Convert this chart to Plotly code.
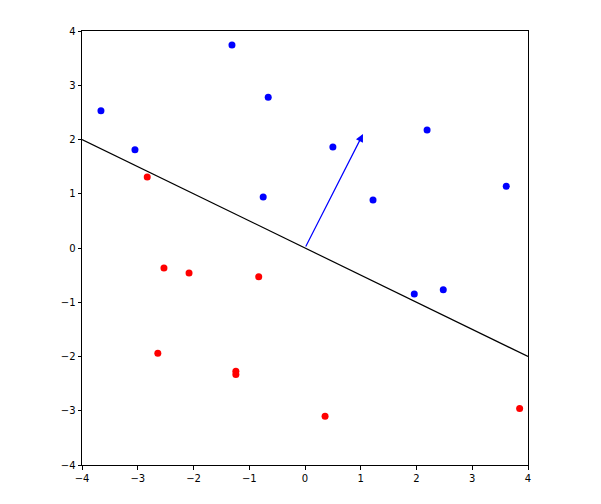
import plotly.graph_objects as go

blue_x = [-3.66, -1.31, -0.66, -3.05, 0.50, -0.75, 1.22, 2.19, 3.61, 1.96, 2.48]
blue_y = [2.53, 3.74, 2.78, 1.81, 1.86, 0.94, 0.885, 2.175, 1.14, -0.85, -0.77]
red_x = [-2.83, -2.53, -2.08, -0.83, -2.64, -1.24, -1.24, 0.36, 3.85]
red_y = [1.31, -0.37, -0.46, -0.53, -1.94, -2.27, -2.33, -3.10, -2.96]
line_x = [-4, 4]
line_y = [2, -2]
arrow_start = [0, 0]
arrow_end = [1.04, 2.1]
ticks = [-4, -3, -2, -1, 0, 1, 2, 3, 4]

fig = go.Figure()
fig.add_trace(go.Scatter(x=line_x, y=line_y, mode="lines",
                         line=dict(color="black", width=1.2), showlegend=False))
fig.add_trace(go.Scatter(x=blue_x, y=blue_y, mode="markers",
                         marker=dict(color="blue", size=7), showlegend=False))
fig.add_trace(go.Scatter(x=red_x, y=red_y, mode="markers",
                         marker=dict(color="red", size=7), showlegend=False))
fig.add_annotation(x=arrow_end[0], y=arrow_end[1], ax=arrow_start[0], ay=arrow_start[1],
                   xref="x", yref="y", axref="x", ayref="y", showarrow=True,
                   arrowhead=2, arrowsize=1.3, arrowwidth=1.2, arrowcolor="blue", text="")

axis_common = dict(range=[-4, 4], tickvals=ticks, ticktext=[("\u2212" + str(-t)) if t < 0 else str(t) for t in ticks],
                   showgrid=False, zeroline=False, showline=True, mirror=True,
                   linecolor="black", linewidth=1, ticks="outside", ticklen=3.5,
                   tickwidth=1, tickcolor="black",
                   tickfont=dict(family="DejaVu Sans", size=10, color="black"))
fig.update_xaxes(**axis_common)
fig.update_yaxes(**axis_common)
fig.update_layout(width=585, height=488, plot_bgcolor="white", paper_bgcolor="white",
                  margin=dict(l=74, r=65, t=23, b=31))
fig.write_html("out.html")
